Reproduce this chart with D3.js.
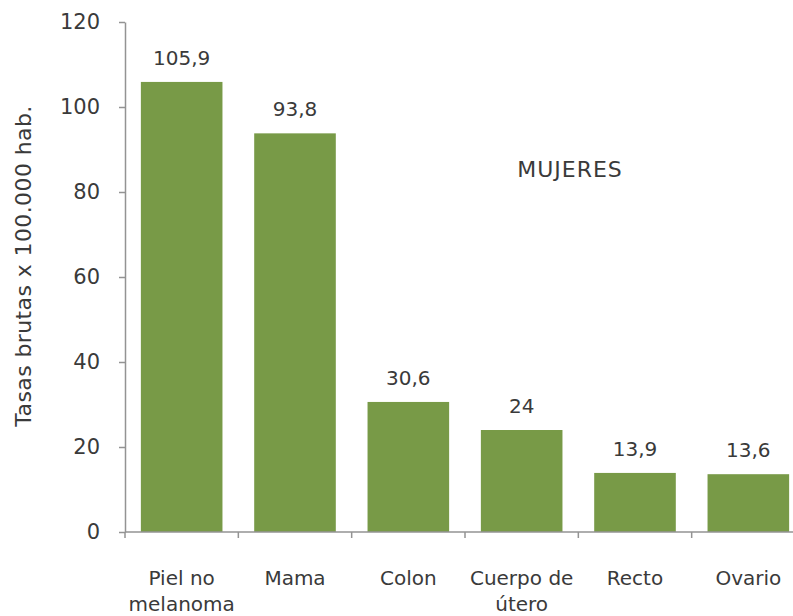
<!DOCTYPE html>
<html>
<head>
<meta charset="utf-8">
<script src="https://cdn.jsdelivr.net/npm/d3@7"></script>
<style>
  html, body { margin: 0; padding: 0; background: #fff; }
  svg { display: block; }
  text { font-family: "DejaVu Sans", Verdana, sans-serif; }
</style>
</head>
<body>
<svg id="chart" width="793" height="616"></svg>
<script>
// Tasas brutas de incidencia en mujeres, por localización
const categories = [["Piel no", "melanoma"], ["Mama"], ["Colon"], ["Cuerpo de", "útero"], ["Recto"], ["Ovario"]];
const values = [105.9, 93.8, 30.6, 24, 13.9, 13.6];
const valueLabels = ["105,9", "93,8", "30,6", "24", "13,9", "13,6"];
const yTicks = [0, 20, 40, 60, 80, 100, 120];
const yTitle = "Tasas brutas x 100.000 hab.";
const seriesTitle = "MUJERES";

const svg = d3.select("#chart");
const x0 = 125, x1 = 805, yTop = 22, yBottom = 532;
const textColor = "#3a3a3a";
const axisColor = "#939393";

const x = d3.scaleBand()
  .domain(d3.range(categories.length))
  .range([x0, x1])
  .paddingInner(0.28)
  .paddingOuter(0.14);

const y = d3.scaleLinear().domain([0, 120]).range([yBottom, yTop]);

// Eje Y
const yAxis = svg.append("g")
  .attr("transform", `translate(${x0},0)`)
  .call(d3.axisLeft(y).tickValues(yTicks).tickSize(6).tickPadding(19).tickSizeOuter(0));
yAxis.select(".domain").attr("stroke", axisColor).attr("stroke-width", 1.5);
yAxis.selectAll(".tick line").attr("stroke", axisColor).attr("stroke-width", 1.5);
yAxis.selectAll(".tick text")
  .attr("fill", textColor)
  .style("font-family", "'DejaVu Sans', Verdana, sans-serif")
  .style("font-size", "21px");

// Barras
svg.append("g").selectAll("rect")
  .data(values)
  .join("rect")
  .attr("x", (d, i) => x(i))
  .attr("width", x.bandwidth())
  .attr("y", d => y(d))
  .attr("height", d => y(0) - y(d))
  .attr("fill", "#789a47");

// Etiquetas de valor
svg.append("g").selectAll("text")
  .data(values)
  .join("text")
  .attr("x", (d, i) => x(i) + x.bandwidth() / 2)
  .attr("y", d => y(d) - 17)
  .attr("text-anchor", "middle")
  .attr("fill", textColor)
  .style("font-size", "20px")
  .text((d, i) => valueLabels[i]);

// Eje X
const step = x.step();
svg.append("line")
  .attr("x1", x0).attr("x2", x1)
  .attr("y1", y(0)).attr("y2", y(0))
  .attr("stroke", axisColor).attr("stroke-width", 1.5);
svg.append("g").selectAll("line")
  .data(d3.range(categories.length + 1))
  .join("line")
  .attr("x1", i => x0 + i * step).attr("x2", i => x0 + i * step)
  .attr("y1", y(0)).attr("y2", y(0) + 6)
  .attr("stroke", axisColor).attr("stroke-width", 1.5);

// Etiquetas de categoría
const catG = svg.append("g").selectAll("text")
  .data(categories)
  .join("text")
  .attr("x", (d, i) => x(i) + x.bandwidth() / 2)
  .attr("y", 585)
  .attr("text-anchor", "middle")
  .attr("fill", textColor)
  .style("font-size", "20px");
catG.selectAll("tspan")
  .data(d => d)
  .join("tspan")
  .attr("x", function () { return this.parentNode.getAttribute("x"); })
  .attr("dy", (d, i) => i === 0 ? 0 : 26)
  .text(d => d);

// Título del eje Y
svg.append("text")
  .attr("transform", "translate(31,266) rotate(-90)")
  .attr("text-anchor", "middle")
  .attr("fill", textColor)
  .style("font-size", "22px")
  .style("letter-spacing", "0.4px")
  .text(yTitle);

// Rótulo de la serie
svg.append("text")
  .attr("x", 570)
  .attr("y", 177)
  .attr("text-anchor", "middle")
  .attr("fill", textColor)
  .style("font-size", "22px")
  .style("letter-spacing", "1px")
  .text(seriesTitle);
</script>
</body>
</html>
